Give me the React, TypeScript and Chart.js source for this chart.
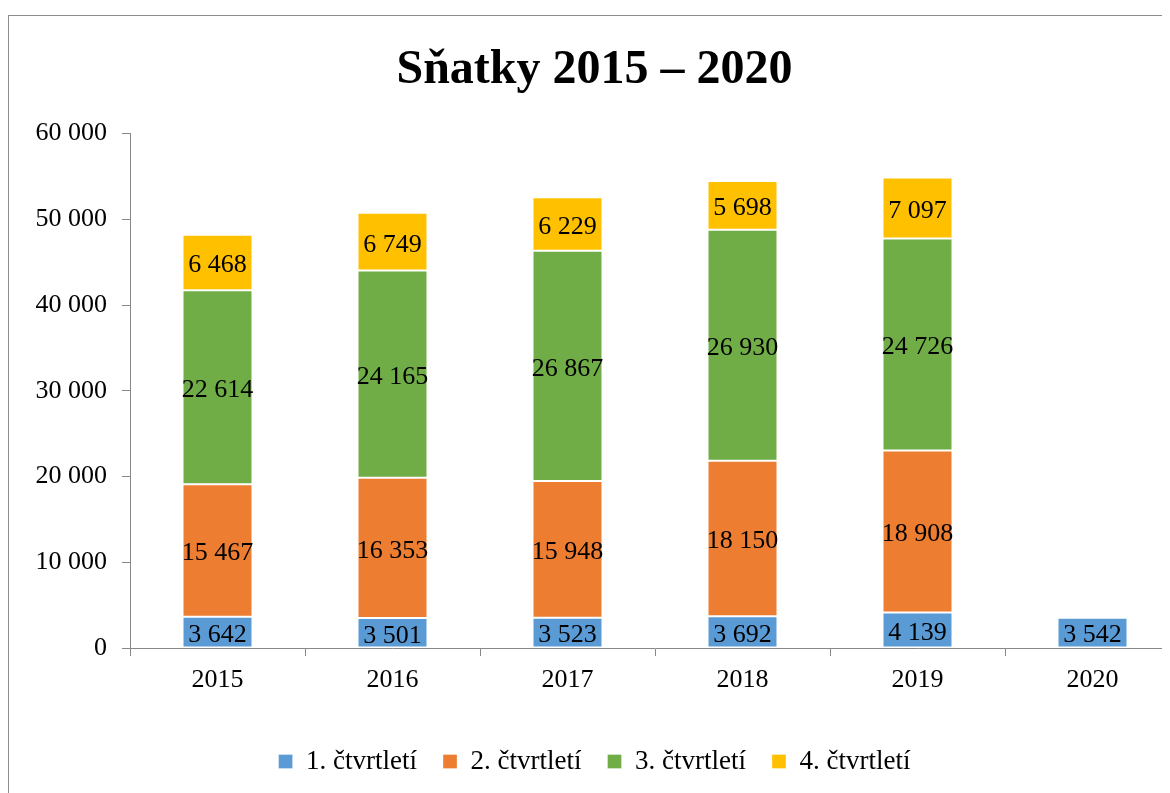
import React, { useEffect, useRef } from "react";
import { Chart, registerables } from "chart.js";

Chart.register(...registerables);

const years = ["2015", "2016", "2017", "2018", "2019", "2020"];
const q1 = [3642, 3501, 3523, 3692, 4139, 3542];
const q2 = [15467, 16353, 15948, 18150, 18908, null];
const q3 = [22614, 24165, 26867, 26930, 24726, null];
const q4 = [6468, 6749, 6229, 5698, 7097, null];
const seriesNames = ["1. čtvrtletí", "2. čtvrtletí", "3. čtvrtletí", "4. čtvrtletí"];
const seriesColors = ["#5B9BD5", "#ED7D31", "#70AD47", "#FFC000"];
const yTicks = [0, 10000, 20000, 30000, 40000, 50000, 60000];

const FONT = '"Liberation Serif", "Times New Roman", serif';
const fmt = (v: number) => String(v).replace(/\B(?=(\d{3})+(?!\d))/g, " ");

const W = 1180;
const H = 800;

const labelPlugin = {
  id: "barLabels",
  afterDatasetsDraw(chart: any) {
    const ctx = chart.ctx;
    ctx.save();
    ctx.font = `26px ${FONT}`;
    ctx.fillStyle = "#000";
    ctx.textAlign = "center";
    ctx.textBaseline = "middle";
    chart.data.datasets.forEach((ds: any, di: number) => {
      const meta = chart.getDatasetMeta(di);
      meta.data.forEach((el: any, i: number) => {
        const v = ds.data[i];
        if (v == null) return;
        const cy = (el.y + el.base) / 2;
        ctx.fillText(fmt(v), el.x, cy + 3);
      });
    });
    ctx.restore();
  },
};

export default function App() {
  const ref = useRef<HTMLCanvasElement>(null);
  useEffect(() => {
    if (!ref.current) return;
    const all = [q1, q2, q3, q4];
    const chart = new Chart(ref.current, {
      type: "bar",
      data: {
        labels: years,
        datasets: all.map((d, i) => ({
          label: seriesNames[i],
          data: d,
          backgroundColor: seriesColors[i],
          borderColor: "rgba(255,255,255,0.3)",
          borderWidth: 1,
          borderSkipped: false,
          categoryPercentage: 1,
          barPercentage: 0.4,
        })),
      },
      options: {
        responsive: false,
        animation: false,
        devicePixelRatio: 1,
        layout: { padding: { left: 0, right: 9, top: 0, bottom: 31 } },
        plugins: {
          title: {
            display: true,
            text: "Sňatky 2015 – 2020",
            color: "#000",
            font: { family: FONT, size: 48, weight: "bold" },
            padding: { top: 26, bottom: 34 },
          },
          legend: {
            position: "bottom",
            labels: {
              color: "#000",
              font: { family: FONT, size: 27 },
              boxWidth: 14,
              boxHeight: 14,
              padding: 26,
            },
          },
          tooltip: { enabled: false },
        },
        scales: {
          x: {
            stacked: true,
            grid: { drawOnChartArea: false, color: "#888", tickLength: 8, offset: true },
            border: { color: "#888", width: 1 },
            ticks: { color: "#000", font: { family: FONT, size: 26 }, padding: 9 },
            afterFit: (s: any) => { s.height = 74; },
          },
          y: {
            stacked: true,
            min: 0,
            max: 60000,
            afterBuildTicks: (s: any) => { s.ticks = yTicks.map((v) => ({ value: v })); },
            grid: { drawOnChartArea: false, color: "#888", tickLength: 8 },
            border: { color: "#888", width: 1 },
            ticks: {
              color: "#000",
              font: { family: FONT, size: 26 },
              padding: 15,
              callback: (v: any) => fmt(Number(v)),
            },
            afterFit: (s: any) => { s.width = 121; },
          },
        },
      },
      plugins: [labelPlugin],
    });
    return () => chart.destroy();
  }, []);
  return (
    <div style={{ paddingTop: 7 }}>
      <div style={{ width: W, height: H, border: "1px solid #8c8c8c" }}>
        <canvas ref={ref} width={W} height={H} style={{ display: "block", width: W, height: H }} />
      </div>
    </div>
  );
}
